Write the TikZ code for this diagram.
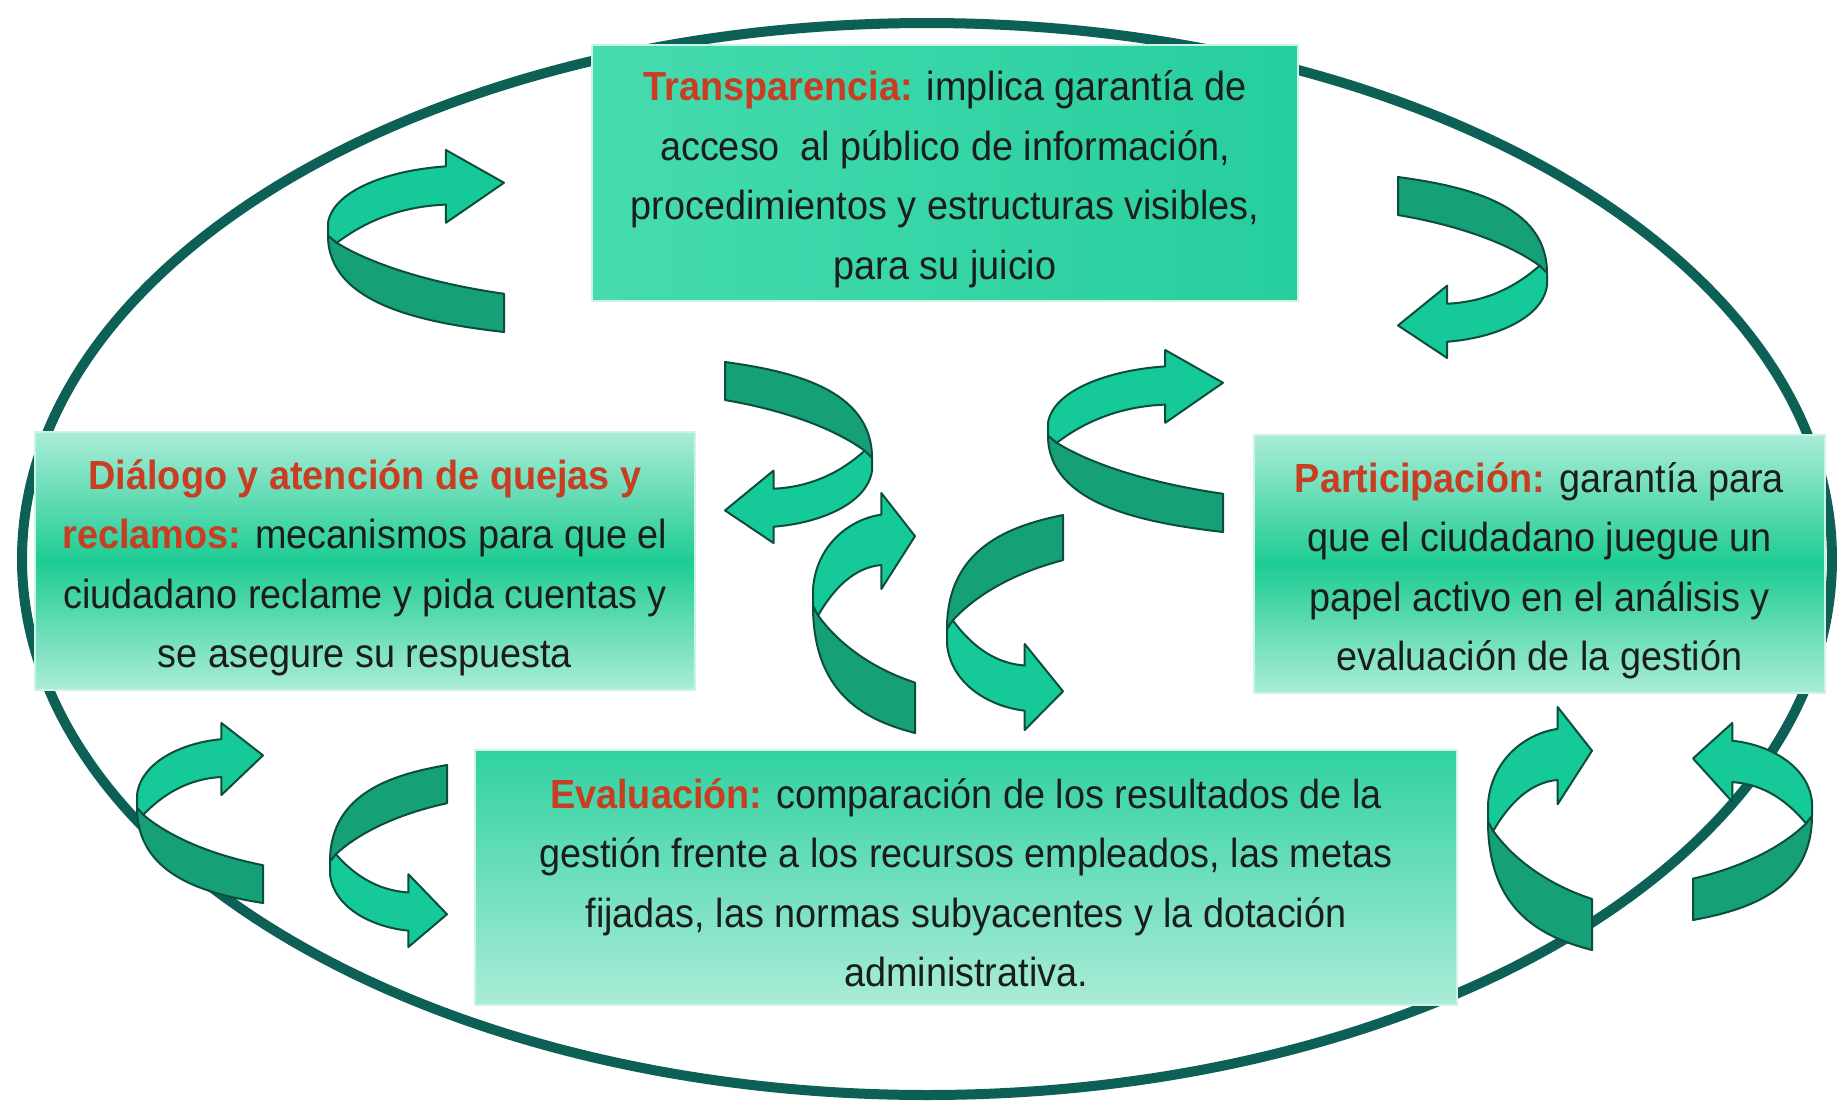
\documentclass[tikz,border=0pt]{standalone}
\usepackage{fontspec}
\setmainfont{Liberation Sans}[FakeStretch=0.93]
\definecolor{ringcol}{RGB}{12,96,86}
\definecolor{ribfrontc}{RGB}{22,201,152}
\definecolor{ribbackc}{RGB}{22,160,120}
\definecolor{riblinec}{RGB}{12,78,62}
\definecolor{titlered}{RGB}{200,62,35}
\definecolor{boxlight}{RGB}{170,236,216}
\definecolor{boxmid}{RGB}{30,204,148}
\definecolor{boxtop}{RGB}{70,219,175}
\definecolor{boxtopdark}{RGB}{38,206,158}
\definecolor{evtop}{RGB}{48,209,160}
\definecolor{boxedge}{RGB}{205,242,230}
\definecolor{txt}{RGB}{25,30,28}
\newcommand{\ttl}[1]{\textcolor{titlered}{\bfseries #1}}
\newcommand{\ribbonarrow}[3]{%
  \begin{scope}[shift={(#1)},xscale=#2,yscale=#3]
    \filldraw[ribback] (0.05,0.51) .. controls (0.2,0.60) and (0.5,0.72) .. (1,0.79)
      -- (1,1) .. controls (0.55,0.95) and (0,0.85) .. (0,0.47) -- cycle;
    \filldraw[ribfront] (0.05,0.51) .. controls (0.2,0.40) and (0.4,0.31) .. (0.67,0.30)
      -- (0.67,0.40) -- (1,0.18) -- (0.67,0) -- (0.67,0.09)
      .. controls (0.35,0.11) and (0.03,0.22) .. (0,0.40) -- (0,0.47) -- cycle;
  \end{scope}}
\tikzset{
  ribback/.style={fill=ribbackc, draw=riblinec, line width=0.6pt, line join=round},
  ribfront/.style={fill=ribfrontc, draw=riblinec, line width=0.6pt, line join=round},
  ring/.style={draw=ringcol, line width=3pt},
  infobox/.style={rectangle, inner sep=0pt, draw=boxedge, line width=0.6pt},
  sidebox/.style={infobox, top color=boxlight, bottom color=boxlight, middle color=boxmid},
  topbox/.style={infobox, left color=boxtop, right color=boxtopdark},
  evbox/.style={infobox, top color=evtop, bottom color=boxlight},
  boxtext/.style={inner sep=0pt, align=center, text=txt,
    font=\fontsize{12.2pt}{17.85pt}\selectfont}
}
\begin{document}
\begin{tikzpicture}[x=0.3pt,y=-0.3pt]
\useasboundingbox (0,0) rectangle (1838,1103);
\fill[white] (0,0) rectangle (1838,1103);
% outer ellipse
\draw[ring] (927,559) ellipse [x radius=271.5pt, y radius=160.8pt];
% ribbon arrows
\ribbonarrow{328,150}{176}{182}
\ribbonarrow{1547,358}{-149}{-181}
\ribbonarrow{872,543}{-147}{-181}
\ribbonarrow{813,493}{102}{240}
\ribbonarrow{947,730}{116}{-215}
\ribbonarrow{1048,350}{175}{182}
\ribbonarrow{137,723}{126}{180}
\ribbonarrow{330,947}{117}{-182}
\ribbonarrow{1488,707}{104}{243}
\ribbonarrow{1812,723}{-119}{197}
% boxes
\node[topbox, minimum width=211.8pt, minimum height=76.8pt] (transp) at (945,173) {};
\node[sidebox, minimum width=198pt, minimum height=77.4pt] (dialogo) at (365,561) {};
\node[sidebox, minimum width=171.3pt, minimum height=77.4pt] (partic) at (1539.5,564) {};
\node[evbox, minimum width=294.6pt, minimum height=76.5pt] (evalua) at (966,877.5) {};
% texts
\node[boxtext] (transpT) at ([yshift=-1.8pt]transp.center)
  {\ttl{Transparencia:} implica garantía de\\acceso \ al público de información,\\procedimientos y estructuras visibles,\\para su juicio};
\node[boxtext] (dialogoT) at ([yshift=-2pt]dialogo.center)
  {\ttl{Diálogo y atención de quejas y}\\\ttl{reclamos:} mecanismos para que el\\ciudadano reclame y pida cuentas y\\se asegure su respuesta};
\node[boxtext] (particT) at ([yshift=-2pt]partic.center)
  {\ttl{Participación:} garantía para\\que el ciudadano juegue un\\papel activo en el análisis y\\evaluación de la gestión};
\node[boxtext] (evaluaT) at ([yshift=-1.5pt]evalua.center)
  {\ttl{Evaluación:} comparación de los resultados de la\\gestión frente a los recursos empleados, las metas\\fijadas, las normas subyacentes y la dotación\\administrativa.};
\end{tikzpicture}
\end{document}
